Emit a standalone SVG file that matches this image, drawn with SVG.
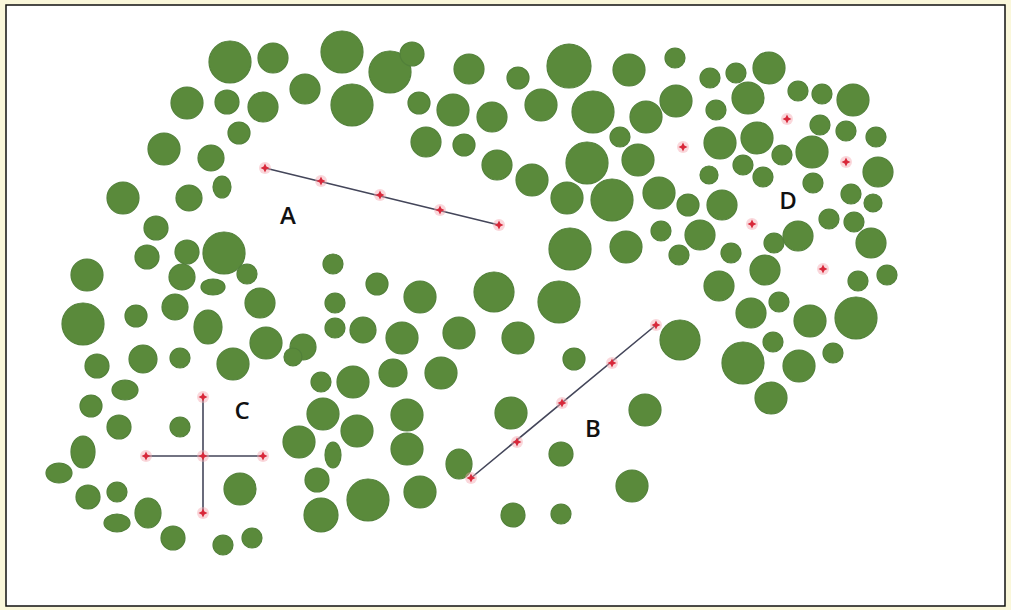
<svg xmlns="http://www.w3.org/2000/svg" xmlns:xlink="http://www.w3.org/1999/xlink" width="1011" height="610" viewBox="0 0 1011 610">
  <style>
    .t { fill: #5a8a3b; stroke: #52803a; stroke-width: 1.2; }
    .ln { stroke: #44465a; stroke-width: 1.6; fill: none; stroke-linecap: round; }
    .lbl { font-family: "Open Sans", "Liberation Sans", sans-serif; font-weight: 600; font-size: 24px; fill: #111; text-anchor: middle; }
  </style>
  <defs>
    <g id="pt">
      <circle r="6" fill="#f4a7b0" opacity="0.45"/>
      <path d="M0,-4.5 L1.4,-1.4 L4.5,0 L1.4,1.4 L0,4.5 L-1.4,1.4 L-4.5,0 L-1.4,-1.4 Z" fill="#d8283a"/>
    </g>
  </defs>

  <!-- page and frame -->
  <rect x="0" y="0" width="1011" height="610" fill="#faf7da"/>
  <rect x="6" y="5" width="999" height="601" fill="#ffffff" stroke="#111" stroke-width="1.5"/>

  <!-- tree crowns -->
  <g id="trees">
    <circle class="t" cx="230" cy="62" r="21"/>
    <circle class="t" cx="273" cy="58" r="15"/>
    <circle class="t" cx="187" cy="103" r="16"/>
    <circle class="t" cx="227" cy="102" r="12"/>
    <circle class="t" cx="263" cy="107" r="15"/>
    <circle class="t" cx="239" cy="133" r="11"/>
    <circle class="t" cx="164" cy="149" r="16"/>
    <circle class="t" cx="211" cy="158" r="13"/>
    <ellipse class="t" cx="222" cy="187" rx="9" ry="11"/>
    <circle class="t" cx="123" cy="198" r="16"/>
    <circle class="t" cx="189" cy="198" r="13"/>
    <circle class="t" cx="342" cy="52" r="21"/>
    <circle class="t" cx="390" cy="72" r="21"/>
    <circle class="t" cx="412" cy="54" r="12"/>
    <circle class="t" cx="469" cy="69" r="15"/>
    <circle class="t" cx="305" cy="89" r="15"/>
    <circle class="t" cx="352" cy="105" r="21"/>
    <circle class="t" cx="419" cy="103" r="11"/>
    <circle class="t" cx="453" cy="110" r="16"/>
    <circle class="t" cx="426" cy="142" r="15"/>
    <circle class="t" cx="464" cy="145" r="11"/>
    <circle class="t" cx="518" cy="78" r="11"/>
    <circle class="t" cx="569" cy="66" r="22"/>
    <circle class="t" cx="629" cy="70" r="16"/>
    <circle class="t" cx="675" cy="58" r="10"/>
    <circle class="t" cx="492" cy="117" r="15"/>
    <circle class="t" cx="541" cy="105" r="16"/>
    <circle class="t" cx="593" cy="112" r="21"/>
    <circle class="t" cx="646" cy="117" r="16"/>
    <circle class="t" cx="676" cy="101" r="16"/>
    <circle class="t" cx="620" cy="137" r="10"/>
    <circle class="t" cx="497" cy="165" r="15"/>
    <circle class="t" cx="532" cy="180" r="16"/>
    <circle class="t" cx="587" cy="163" r="21"/>
    <circle class="t" cx="638" cy="160" r="16"/>
    <circle class="t" cx="567" cy="198" r="16"/>
    <circle class="t" cx="612" cy="200" r="21"/>
    <circle class="t" cx="659" cy="193" r="16"/>
    <circle class="t" cx="688" cy="205" r="11"/>

    <circle class="t" cx="710" cy="78" r="10"/>
    <circle class="t" cx="736" cy="73" r="10"/>
    <circle class="t" cx="769" cy="68" r="16"/>
    <circle class="t" cx="748" cy="98" r="16"/>
    <circle class="t" cx="716" cy="110" r="10"/>
    <circle class="t" cx="798" cy="91" r="10"/>
    <circle class="t" cx="822" cy="94" r="10"/>
    <circle class="t" cx="853" cy="100" r="16"/>
    <circle class="t" cx="820" cy="125" r="10"/>
    <circle class="t" cx="846" cy="131" r="10"/>
    <circle class="t" cx="876" cy="137" r="10"/>
    <circle class="t" cx="720" cy="143" r="16"/>
    <circle class="t" cx="757" cy="138" r="16"/>
    <circle class="t" cx="782" cy="155" r="10"/>
    <circle class="t" cx="812" cy="152" r="16"/>
    <circle class="t" cx="878" cy="172" r="15"/>
    <circle class="t" cx="709" cy="175" r="9"/>
    <circle class="t" cx="743" cy="165" r="10"/>
    <circle class="t" cx="763" cy="177" r="10"/>
    <circle class="t" cx="813" cy="183" r="10"/>
    <circle class="t" cx="851" cy="194" r="10"/>
    <circle class="t" cx="873" cy="203" r="9"/>
    <circle class="t" cx="722" cy="205" r="15"/>

    <circle class="t" cx="570" cy="249" r="21"/>
    <circle class="t" cx="626" cy="247" r="16"/>
    <circle class="t" cx="661" cy="231" r="10"/>
    <circle class="t" cx="679" cy="255" r="10"/>
    <circle class="t" cx="700" cy="235" r="15"/>
    <circle class="t" cx="731" cy="253" r="10"/>
    <circle class="t" cx="774" cy="243" r="10"/>
    <circle class="t" cx="798" cy="236" r="15"/>
    <circle class="t" cx="829" cy="219" r="10"/>
    <circle class="t" cx="854" cy="222" r="10"/>
    <circle class="t" cx="871" cy="243" r="15"/>
    <circle class="t" cx="765" cy="270" r="15"/>
    <circle class="t" cx="858" cy="281" r="10"/>
    <circle class="t" cx="887" cy="275" r="10"/>
    <circle class="t" cx="719" cy="286" r="15"/>
    <circle class="t" cx="779" cy="302" r="10"/>
    <circle class="t" cx="751" cy="313" r="15"/>
    <circle class="t" cx="810" cy="321" r="16"/>
    <circle class="t" cx="856" cy="318" r="21"/>
    <circle class="t" cx="680" cy="340" r="20"/>
    <circle class="t" cx="773" cy="342" r="10"/>
    <circle class="t" cx="833" cy="353" r="10"/>
    <circle class="t" cx="743" cy="363" r="21"/>
    <circle class="t" cx="799" cy="366" r="16"/>
    <circle class="t" cx="771" cy="398" r="16"/>
    <circle class="t" cx="494" cy="292" r="20"/>
    <circle class="t" cx="559" cy="302" r="21"/>
    <circle class="t" cx="518" cy="338" r="16"/>
    <circle class="t" cx="574" cy="359" r="11"/>

    <circle class="t" cx="156" cy="228" r="12"/>
    <circle class="t" cx="147" cy="257" r="12"/>
    <circle class="t" cx="187" cy="252" r="12"/>
    <circle class="t" cx="182" cy="277" r="13"/>
    <circle class="t" cx="175" cy="307" r="13"/>
    <circle class="t" cx="224" cy="253" r="21"/>
    <circle class="t" cx="247" cy="274" r="10"/>
    <ellipse class="t" cx="213" cy="287" rx="12" ry="8"/>
    <circle class="t" cx="87" cy="275" r="16"/>
    <circle class="t" cx="83" cy="324" r="21"/>
    <circle class="t" cx="136" cy="316" r="11"/>
    <ellipse class="t" cx="208" cy="327" rx="14" ry="17"/>
    <circle class="t" cx="260" cy="303" r="15"/>
    <circle class="t" cx="266" cy="343" r="16"/>
    <circle class="t" cx="97" cy="366" r="12"/>
    <circle class="t" cx="143" cy="359" r="14"/>
    <circle class="t" cx="180" cy="358" r="10"/>
    <circle class="t" cx="233" cy="364" r="16"/>
    <ellipse class="t" cx="125" cy="390" rx="13" ry="10"/>
    <circle class="t" cx="333" cy="264" r="10"/>
    <circle class="t" cx="377" cy="284" r="11"/>
    <circle class="t" cx="420" cy="297" r="16"/>
    <circle class="t" cx="335" cy="303" r="10"/>
    <circle class="t" cx="335" cy="328" r="10"/>
    <circle class="t" cx="363" cy="330" r="13"/>
    <circle class="t" cx="402" cy="338" r="16"/>
    <circle class="t" cx="459" cy="333" r="16"/>
    <circle class="t" cx="303" cy="347" r="13"/>
    <circle class="t" cx="293" cy="357" r="9"/>
    <circle class="t" cx="321" cy="382" r="10"/>
    <circle class="t" cx="353" cy="382" r="16"/>
    <circle class="t" cx="393" cy="373" r="14"/>
    <circle class="t" cx="441" cy="373" r="16"/>

    <circle class="t" cx="91" cy="406" r="11"/>
    <circle class="t" cx="119" cy="427" r="12"/>
    <circle class="t" cx="180" cy="427" r="10"/>
    <ellipse class="t" cx="83" cy="452" rx="12" ry="16"/>
    <ellipse class="t" cx="59" cy="473" rx="13" ry="10"/>
    <circle class="t" cx="88" cy="497" r="12"/>
    <circle class="t" cx="117" cy="492" r="10"/>
    <ellipse class="t" cx="117" cy="523" rx="13" ry="9"/>
    <ellipse class="t" cx="148" cy="513" rx="13" ry="15"/>
    <circle class="t" cx="173" cy="538" r="12"/>
    <circle class="t" cx="240" cy="489" r="16"/>
    <circle class="t" cx="223" cy="545" r="10"/>
    <circle class="t" cx="252" cy="538" r="10"/>
    <circle class="t" cx="323" cy="414" r="16"/>
    <circle class="t" cx="357" cy="431" r="16"/>
    <circle class="t" cx="407" cy="415" r="16"/>
    <circle class="t" cx="299" cy="442" r="16"/>
    <ellipse class="t" cx="333" cy="455" rx="8" ry="13"/>
    <circle class="t" cx="407" cy="449" r="16"/>
    <ellipse class="t" cx="459" cy="464" rx="13" ry="15"/>
    <circle class="t" cx="317" cy="480" r="12"/>
    <circle class="t" cx="368" cy="500" r="21"/>
    <circle class="t" cx="420" cy="492" r="16"/>
    <circle class="t" cx="321" cy="515" r="17"/>
    <circle class="t" cx="511" cy="413" r="16"/>
    <circle class="t" cx="645" cy="410" r="16"/>
    <circle class="t" cx="561" cy="454" r="12"/>
    <circle class="t" cx="632" cy="486" r="16"/>
    <circle class="t" cx="513" cy="515" r="12"/>
    <circle class="t" cx="561" cy="514" r="10"/>
  </g>

  <!-- sampling transects -->
  <g id="transects">
    <line class="ln" x1="265" y1="168" x2="499" y2="225"/>
    <line class="ln" x1="471" y1="478" x2="656" y2="325"/>
    <line class="ln" x1="203" y1="397" x2="203" y2="513"/>
    <line class="ln" x1="146" y1="456" x2="263" y2="456"/>
  </g>

  <!-- sample points -->
  <g id="points">
    <use xlink:href="#pt" x="265" y="168"/>
    <use xlink:href="#pt" x="321" y="181"/>
    <use xlink:href="#pt" x="380" y="195"/>
    <use xlink:href="#pt" x="440" y="210"/>
    <use xlink:href="#pt" x="499" y="225"/>

    <use xlink:href="#pt" x="471" y="478"/>
    <use xlink:href="#pt" x="517" y="442"/>
    <use xlink:href="#pt" x="562" y="403"/>
    <use xlink:href="#pt" x="612" y="363"/>
    <use xlink:href="#pt" x="656" y="325"/>

    <use xlink:href="#pt" x="203" y="397"/>
    <use xlink:href="#pt" x="203" y="456"/>
    <use xlink:href="#pt" x="203" y="513"/>
    <use xlink:href="#pt" x="146" y="456"/>
    <use xlink:href="#pt" x="263" y="456"/>

    <use xlink:href="#pt" x="683" y="147"/>
    <use xlink:href="#pt" x="787" y="119"/>
    <use xlink:href="#pt" x="846" y="162"/>
    <use xlink:href="#pt" x="752" y="224"/>
    <use xlink:href="#pt" x="823" y="269"/>
  </g>

  <!-- method labels -->
  <g id="labels">
    <text class="lbl" x="288" y="224">A</text>
    <text class="lbl" x="593" y="437">B</text>
    <text class="lbl" x="242" y="419">C</text>
    <text class="lbl" x="788" y="209">D</text>
  </g>
</svg>
